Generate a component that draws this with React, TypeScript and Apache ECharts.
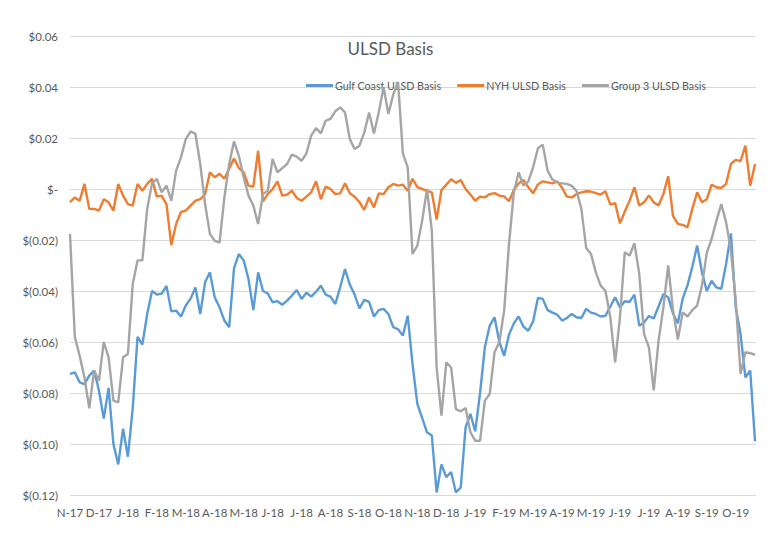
import React, { useEffect, useRef } from "react";
import * as echarts from "echarts";

// Month tick labels (one per month, Nov 2017 .. Oct 2019)
const monthLabels = [
  "N-17", "D-17", "J-18", "F-18", "M-18", "A-18", "M-18", "J-18", "J-18", "A-18", "S-18", "O-18",
  "N-18", "D-18", "J-19", "F-19", "M-19", "A-19", "M-19", "J-19", "J-19", "A-19", "S-19", "O-19",
];

// Samples every 1/6 month (about every 5 days), $/gal
const stepMonths = 1 / 6;

const gulfCoast = [
  -0.0725, -0.0719, -0.0758, -0.0765, -0.0732, -0.0712, -0.079, -0.09, -0.078, -0.1, -0.108, -0.094, -0.105, -0.086,
  -0.058, -0.061, -0.049, -0.04, -0.0414, -0.041, -0.038, -0.048, -0.0477, -0.05, -0.0457, -0.043, -0.0386, -0.049,
  -0.0366, -0.0327, -0.0425, -0.0464, -0.0516, -0.0542, -0.031, -0.0255, -0.028, -0.0353, -0.0475, -0.0327, -0.04,
  -0.041, -0.0444, -0.044, -0.0454, -0.0438, -0.0418, -0.0396, -0.0431, -0.0407, -0.0422, -0.0403, -0.0379, -0.0414,
  -0.0422, -0.0451, -0.0386, -0.0314, -0.0375, -0.0414, -0.0468, -0.0435, -0.0443, -0.05, -0.0475, -0.047, -0.049,
  -0.0542, -0.055, -0.0575, -0.0497, -0.0686, -0.0843, -0.0898, -0.0954, -0.0967, -0.119, -0.108, -0.113, -0.111,
  -0.119, -0.117, -0.0935, -0.0882, -0.095, -0.08, -0.062, -0.0536, -0.0503, -0.06, -0.0654, -0.0571, -0.0527, -0.05,
  -0.054, -0.0556, -0.0519, -0.0427, -0.0431, -0.0475, -0.0485, -0.0493, -0.0516, -0.0506, -0.049, -0.0503, -0.0506,
  -0.047, -0.0485, -0.049, -0.05, -0.0497, -0.0461, -0.0425, -0.0464, -0.044, -0.0443, -0.0414, -0.0536, -0.0523,
  -0.0498, -0.0508, -0.0461, -0.0412, -0.0425, -0.0488, -0.0527, -0.043, -0.0378, -0.0305, -0.0222, -0.0327, -0.04,
  -0.036, -0.0386, -0.0392, -0.0294, -0.0174, -0.0464, -0.0569, -0.0739, -0.0712, -0.099,
];

const nyh = [
  -0.0052, -0.0033, -0.0046, 0.002, -0.0078, -0.0078, -0.0085, -0.004, -0.0052, -0.0085, 0.002, -0.0026, -0.0059,
  -0.0065, 0.002, -0.0007, 0.002, 0.004, -0.003, -0.0026, -0.006, -0.022, -0.0137, -0.009, -0.0085, -0.0065, -0.0046,
  -0.004, -0.002, 0.0065, 0.0046, 0.006, 0.004, 0.008, 0.012, 0.0082, 0.0065, 0.0013, 0.0009, 0.015, -0.0048, -0.002,
  0, 0.003, -0.0026, -0.0022, -0.0007, -0.0035, -0.0046, -0.003, -0.0013, 0.003, -0.004, 0.0009, 0, -0.002, -0.0017,
  0.0022, -0.0017, -0.003, -0.0052, -0.0082, -0.0033, -0.0072, -0.0017, -0.002, 0.0007, 0.002, 0.0013, 0.0017,
  -0.0007, 0.004, 0.0007, 0, -0.0007, -0.0013, -0.012, -0.0004, 0.0017, 0.0038, 0.0024, 0.0035, 0, -0.0022, -0.0046,
  -0.003, -0.0033, -0.002, -0.0016, -0.0026, -0.0029, -0.0048, -0.0004, 0.0022, 0.0035, 0.0007, -0.0017, 0.0018,
  0.003, 0.0026, 0.0022, 0.003, 0.0005, -0.003, -0.0033, -0.002, -0.0013, -0.0009, -0.001, -0.0016, -0.0022, -0.0009,
  -0.0061, -0.0055, -0.0135, -0.0088, -0.0046, 0.0007, -0.0065, -0.0052, -0.0025, -0.0052, -0.0065, -0.002, 0.005,
  -0.0105, -0.0137, -0.0141, -0.015, -0.0078, -0.0013, -0.0052, -0.004, 0.0017, 0.0007, 0.0004, 0.002, 0.0098,
  0.0114, 0.0109, 0.017, 0.0013, 0.0098,
];

const group3 = [
  -0.0176, -0.058, -0.0654, -0.0739, -0.086, -0.0712, -0.0752, -0.06, -0.066, -0.083, -0.0837, -0.066, -0.0647,
  -0.0373, -0.028, -0.028, -0.0078, 0.0022, 0.004, -0.0013, 0.0013, -0.0046, 0.0072, 0.0124, 0.0196, 0.0226, 0.0216,
  0.0098, -0.0059, -0.0176, -0.0203, -0.021, -0.0033, 0.0098, 0.0187, 0.013, 0.0046, -0.0026, -0.0065, -0.0137,
  -0.002, -0.0007, 0.0118, 0.0065, 0.0082, 0.0098, 0.0135, 0.0127, 0.011, 0.014, 0.0209, 0.0239, 0.0218, 0.0268,
  0.0275, 0.0305, 0.032, 0.03, 0.0196, 0.0157, 0.017, 0.0222, 0.03, 0.0218, 0.03, 0.04, 0.0294, 0.037, 0.042, 0.014,
  0.0085, -0.0255, -0.0222, -0.0124, 0, -0.0163, -0.07, -0.0889, -0.068, -0.07, -0.0863, -0.0872, -0.0859, -0.0954,
  -0.0987, -0.0987, -0.083, -0.0804, -0.064, -0.06, -0.0477, -0.0216, -0.0013, 0.0065, 0.0013, 0.003, 0.0085, 0.016,
  0.0174, 0.0072, 0.0037, 0.0026, 0.0022, 0.002, 0.0012, -0.0007, -0.0078, -0.0231, -0.0255, -0.0327, -0.0379, -0.04,
  -0.0503, -0.068, -0.0503, -0.0248, -0.0261, -0.0213, -0.0333, -0.0569, -0.062, -0.079, -0.0595, -0.0464, -0.03,
  -0.0475, -0.059, -0.0484, -0.05, -0.0475, -0.0457, -0.0379, -0.025, -0.0196, -0.0124, -0.0059, -0.013, -0.0242,
  -0.0438, -0.0725, -0.064, -0.0644, -0.065,
];

const seriesNames = ["Gulf Coast ULSD Basis", "NYH ULSD Basis", "Group 3 ULSD Basis"];
const seriesColors = ["#5B9BD5", "#ED7D31", "#A5A5A5"];
const seriesValues = [gulfCoast, nyh, group3];

const FONT = "Lato, 'Open Sans', sans-serif";
const TEXT = "#595959";

function fmtDollar(v: number): string {
  if (Math.abs(v) < 1e-9) return "$-";
  if (v > 0) return "$" + v.toFixed(2);
  return "$(" + (-v).toFixed(2) + ")";
}

export default function App() {
  const ref = useRef<HTMLDivElement>(null);
  useEffect(() => {
    if (!ref.current) return;
    const chart = echarts.init(ref.current, undefined, { renderer: "svg" });
    chart.setOption({
      animation: false,
      backgroundColor: "#ffffff",
      title: {
        text: "ULSD Basis",
        left: "center",
        top: 35,
        textStyle: { fontFamily: FONT, fontSize: 17, fontWeight: "normal", color: TEXT },
      },
      legend: {
        left: 301,
        top: 75,
        icon: "rect",
        itemWidth: 27,
        itemHeight: 3,
        itemGap: 16,
        textStyle: { fontFamily: FONT, fontSize: 10.7, color: TEXT, padding: [0, 0, 0, -3] },
        data: seriesNames,
      },
      grid: { left: 70, right: 25, top: 36, bottom: 38, containLabel: false },
      xAxis: {
        type: "value",
        min: 0,
        max: 23.7,
        interval: 1,
        axisLine: { show: false },
        axisTick: { show: false },
        splitLine: { show: false },
        axisLabel: {
          fontFamily: FONT,
          fontSize: 11.5,
          color: TEXT,
          margin: 11,
          showMaxLabel: false,
          formatter: (v: number) => {
            const i = Math.round(v);
            return Math.abs(v - i) < 1e-6 && monthLabels[i] ? monthLabels[i] : "";
          },
        },
      },
      yAxis: {
        type: "value",
        min: -0.12,
        max: 0.06,
        interval: 0.02,
        axisLine: { show: false },
        axisTick: { show: false },
        splitLine: { lineStyle: { color: "#D9D9D9", width: 1 } },
        axisLabel: {
          fontFamily: FONT,
          fontSize: 11.5,
          color: TEXT,
          margin: 12,
          formatter: (v: number) => fmtDollar(v),
        },
      },
      series: seriesValues.map((vals, s) => ({
        name: seriesNames[s],
        type: "line",
        showSymbol: false,
        symbol: "none",
        lineStyle: { width: 2.4, color: seriesColors[s] },
        itemStyle: { color: seriesColors[s] },
        data: vals.map((v, i) => [i * stepMonths, v]),
        z: 2 + s,
      })),
    });
    return () => chart.dispose();
  }, []);
  return (
    <div
      ref={ref}
      style={{ position: "absolute", left: 0, top: 0, width: 781, height: 533, background: "#fff" }}
    />
  );
}
